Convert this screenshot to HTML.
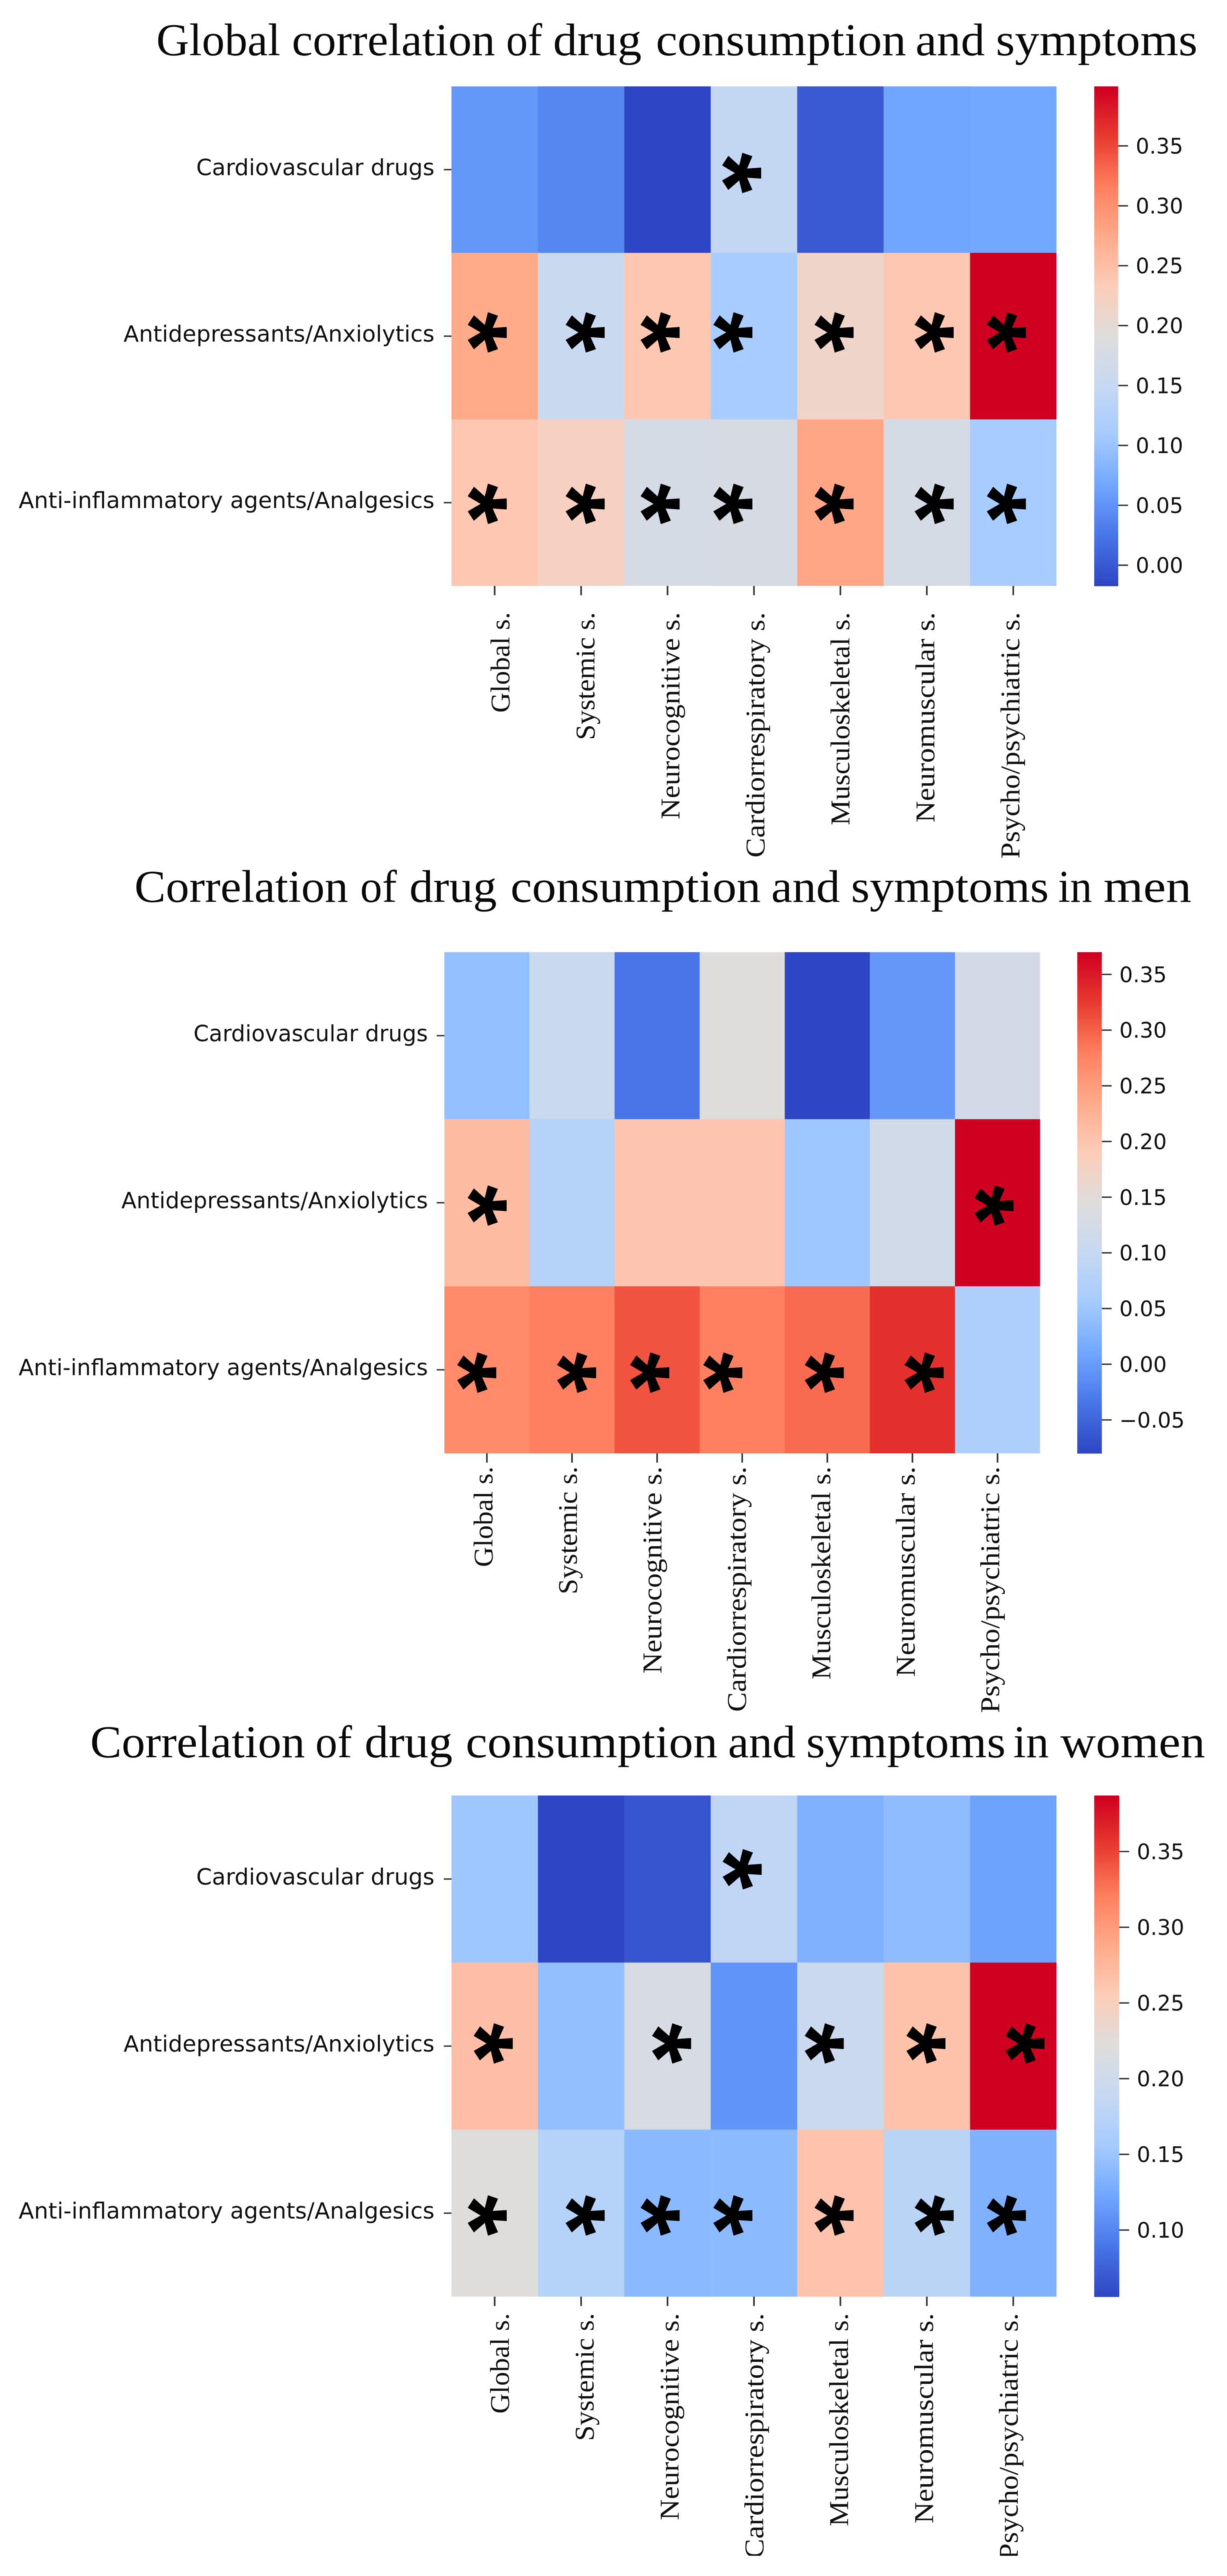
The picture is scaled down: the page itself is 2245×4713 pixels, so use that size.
<!DOCTYPE html>
<html lang="en">
<head>
<meta charset="utf-8">
<title>Correlation of drug consumption and symptoms</title>
<style>
  html, body { margin: 0; padding: 0; background: #fff; }
  body { width: 2245px; height: 4713px; overflow: hidden; }
  svg { display: block; filter: blur(0.8px); }
  .title { font-family: "Liberation Serif", serif; font-size: 84px; fill: #0a0a0a; }
  .ylab { font-family: "DejaVu Sans", sans-serif; font-size: 41px; fill: #111; }
  .cblab { font-family: "DejaVu Sans", sans-serif; font-size: 39px; fill: #111; }
  .xlab { font-family: "Liberation Serif", serif; font-size: 50px; fill: #111; }
  .star { font-family: "Liberation Sans", sans-serif; font-weight: 700; font-size: 192px; fill: #000; }
</style>
</head>
<body>
<svg id="fig" xmlns="http://www.w3.org/2000/svg" width="2245" height="4713" viewBox="0 0 2245 4713">
  <rect x="0" y="0" width="2245" height="4713" fill="#ffffff"/>
  <text class="title" y="101"><tspan x="286" textLength="227" lengthAdjust="spacingAndGlyphs">Global</tspan> <tspan x="534" textLength="372" lengthAdjust="spacingAndGlyphs">correlation</tspan> <tspan x="926" textLength="66" lengthAdjust="spacingAndGlyphs">of</tspan> <tspan x="1012" textLength="162" lengthAdjust="spacingAndGlyphs">drug</tspan> <tspan x="1200" textLength="458" lengthAdjust="spacingAndGlyphs">consumption</tspan> <tspan x="1675" textLength="127" lengthAdjust="spacingAndGlyphs">and</tspan> <tspan x="1822" textLength="369" lengthAdjust="spacingAndGlyphs">symptoms</tspan></text>
  <text class="title" y="1650"><tspan x="246" textLength="391" lengthAdjust="spacingAndGlyphs">Correlation</tspan> <tspan x="659" textLength="67" lengthAdjust="spacingAndGlyphs">of</tspan> <tspan x="749" textLength="160" lengthAdjust="spacingAndGlyphs">drug</tspan> <tspan x="934" textLength="458" lengthAdjust="spacingAndGlyphs">consumption</tspan> <tspan x="1411" textLength="126" lengthAdjust="spacingAndGlyphs">and</tspan> <tspan x="1557" textLength="362" lengthAdjust="spacingAndGlyphs">symptoms</tspan> <tspan x="1936" textLength="62" lengthAdjust="spacingAndGlyphs">in</tspan> <tspan x="2019" textLength="161" lengthAdjust="spacingAndGlyphs">men</tspan></text>
  <text class="title" y="3215"><tspan x="165" textLength="393" lengthAdjust="spacingAndGlyphs">Correlation</tspan> <tspan x="577" textLength="67" lengthAdjust="spacingAndGlyphs">of</tspan> <tspan x="667" textLength="161" lengthAdjust="spacingAndGlyphs">drug</tspan> <tspan x="852" textLength="461" lengthAdjust="spacingAndGlyphs">consumption</tspan> <tspan x="1332" textLength="124" lengthAdjust="spacingAndGlyphs">and</tspan> <tspan x="1475" textLength="365" lengthAdjust="spacingAndGlyphs">symptoms</tspan> <tspan x="1854" textLength="65" lengthAdjust="spacingAndGlyphs">in</tspan> <tspan x="1940" textLength="265" lengthAdjust="spacingAndGlyphs">women</tspan></text>
  <defs>
    <clipPath id="page-clip"><rect x="0" y="0" width="2245" height="4676"/></clipPath>
  </defs>
  <g id="plots" clip-path="url(#page-clip)"></g>
</svg>
<script>
// ---- shared categories ----
const drugCategories = ["Cardiovascular drugs", "Antidepressants/Anxiolytics", "Anti-inflammatory agents/Analgesics"];
const symptomCategories = ["Global s.", "Systemic s.", "Neurocognitive s.", "Cardiorrespiratory s.", "Musculoskeletal s.", "Neuromuscular s.", "Psycho/psychiatric s."];

// ---- correlation values (rows: drugs, columns: symptoms) ----
const valuesGlobal = [
  [0.054, 0.039, -0.0173, 0.146, 0.000, 0.066, 0.068],
  [0.275, 0.154, 0.240, 0.112, 0.214, 0.240, 0.3997],
  [0.240, 0.225, 0.175, 0.177, 0.279, 0.175, 0.112]
];
const valuesMen = [
  [0.042, 0.105, -0.035, 0.145, -0.080, -0.004, 0.122],
  [0.212, 0.078, 0.200, 0.200, 0.050, 0.118, 0.370],
  [0.269, 0.280, 0.310, 0.280, 0.294, 0.334, 0.068]
];
const valuesWomen = [
  [0.152, 0.056, 0.066, 0.183, 0.132, 0.142, 0.120],
  [0.269, 0.145, 0.210, 0.110, 0.195, 0.265, 0.387],
  [0.221, 0.172, 0.139, 0.140, 0.264, 0.177, 0.132]
];

// ---- significance flags ----
const significantGlobal = [
  [0, 0, 0, 1, 0, 0, 0],
  [1, 1, 1, 1, 1, 1, 1],
  [1, 1, 1, 1, 1, 1, 1]
];
const significantMen = [
  [0, 0, 0, 0, 0, 0, 0],
  [1, 0, 0, 0, 0, 0, 1],
  [1, 1, 1, 1, 1, 1, 0]
];
const significantWomen = [
  [0, 0, 0, 1, 0, 0, 0],
  [1, 0, 1, 0, 1, 1, 1],
  [1, 1, 1, 1, 1, 1, 1]
];

// ---- colorbar tick values ----
const ticksGlobal = [0.00, 0.05, 0.10, 0.15, 0.20, 0.25, 0.30, 0.35];
const ticksMen = [-0.05, 0.00, 0.05, 0.10, 0.15, 0.20, 0.25, 0.30, 0.35];
const ticksWomen = [0.10, 0.15, 0.20, 0.25, 0.30, 0.35];

// ---- layout (frame geometry, hand-placed marker nudges) ----
const colormapStops = [
  [46, 70, 196], [72, 118, 232], [112, 166, 255], [164, 203, 255], [198, 216, 242],
  [222, 221, 220], [252, 205, 185], [255, 171, 138], [255, 128, 96], [232, 60, 48], [208, 0, 32]
];
const labelSpans = [184, 234, 379, 449, 390, 385, 451];

const panelGlobal = {
  name: "global", values: valuesGlobal, significant: significantGlobal, ticks: ticksGlobal,
  left: 826, right: 1933, top: 158, bottom: 1072,
  barLeft: 2002, barRight: 2046, labelEnd: 795, tickLeft: 812, yLabelSpans: [436, 569, 761],
  xLabelTop: 1120, xNudgeStart: 27, xNudgeEnd: 11,
  starDx: [[0, 0, 0, -20, 0, 0, 0], [-11, 10, -11, -36, -9, 16, -10], [-11, 10, -11, -36, -9, 16, -10]],
  starDy: [6, -7, 2]
};
const panelMen = {
  name: "men", values: valuesMen, significant: significantMen, ticks: ticksMen,
  left: 813, right: 1903, top: 1742, bottom: 2659,
  barLeft: 1971, barRight: 2016, labelEnd: 783, tickLeft: 799, yLabelSpans: [429, 561, 749],
  xLabelTop: 2683, xNudgeStart: 10, xNudgeEnd: 3,
  starDx: [[0, 0, 0, 0, 0, 0, 0], [3, 0, 0, 0, 0, 0, -4], [-16, 11, -11, -33, -3, 24, 0]],
  starDy: [0, 5, 5]
};
const panelWomen = {
  name: "women", values: valuesWomen, significant: significantWomen, ticks: ticksWomen,
  left: 826, right: 1933, top: 3285, bottom: 4202,
  barLeft: 2002, barRight: 2048, labelEnd: 795, tickLeft: 812, yLabelSpans: [436, 569, 761],
  xLabelTop: 4232, xNudgeStart: 26, xNudgeEnd: 8,
  starDx: [[0, 0, 0, -19, 0, 0, 0], [0, 0, 10, 0, -27, 1, 24], [-11, 10, -11, -36, -9, 16, -10]],
  starDy: [-18, -5, 4]
};

const SVG_NS = "http://www.w3.org/2000/svg";
const plotsRoot = document.getElementById("plots");

function svgEl(tag, attrs, parent) {
  const el = document.createElementNS(SVG_NS, tag);
  for (const k in attrs) el.setAttribute(k, attrs[k]);
  parent.appendChild(el);
  return el;
}

function colormap(t) {
  const c = Math.max(0, Math.min(1, t)) * (colormapStops.length - 1);
  const i = Math.min(Math.floor(c), colormapStops.length - 2);
  const f = c - i;
  const a = colormapStops[i], b = colormapStops[i + 1];
  return "rgb(" + [0, 1, 2].map(function (k) { return Math.round(a[k] + (b[k] - a[k]) * f); }).join(",") + ")";
}

function formatTick(v) {
  return (v < 0 ? "\u2212" : "") + Math.abs(v).toFixed(2);
}

function drawPanel(p) {
  const g = svgEl("g", {}, plotsRoot);
  
  

  const flat = p.values.reduce(function (acc, r) { return acc.concat(r); }, []);
  const vmin = Math.min.apply(null, flat);
  const vmax = Math.max.apply(null, flat);
  const norm = function (v) { return (v - vmin) / (vmax - vmin); };

  const colWidth = (p.right - p.left) / symptomCategories.length;
  const rowHeight = (p.bottom - p.top) / drugCategories.length;
  const xScale = function (i) { return p.left + i * colWidth; };
  const yScale = function (i) { return p.top + i * rowHeight; };
  const barY = function (v) { return p.bottom - norm(v) * (p.bottom - p.top); };

  // cells
  p.values.forEach(function (row, r) {
    row.forEach(function (v, c) {
      const cell = svgEl("rect", {
        x: xScale(c), y: yScale(r),
        width: colWidth + (c < row.length - 1 ? 0.6 : 0),
        height: rowHeight + (r < p.values.length - 1 ? 0.6 : 0),
        fill: colormap(norm(v))
      }, g);
      
      
    });
  });

  // y axis ticks and labels
  drugCategories.forEach(function (label, r) {
    const cy = yScale(r) + rowHeight / 2;
    const tick = svgEl("line", { x1: p.tickLeft, x2: p.left, y1: cy, y2: cy, stroke: "#333", "stroke-width": 2.6 }, g);
    
    
    const t = svgEl("text", {
      class: "ylab", x: p.labelEnd - p.yLabelSpans[r], y: cy + 10,
      textLength: p.yLabelSpans[r], lengthAdjust: "spacingAndGlyphs"
    }, g);
    t.textContent = label;
    
    
  });

  // x axis ticks and labels
  symptomCategories.forEach(function (label, c) {
    const cx = xScale(c) + colWidth / 2;
    const tick = svgEl("line", { x1: cx, x2: cx, y1: p.bottom, y2: p.bottom + 17, stroke: "#333", "stroke-width": 3 }, g);
    
    
    const nudge = p.xNudgeStart + (p.xNudgeEnd - p.xNudgeStart) * c / (symptomCategories.length - 1);
    const bx = cx + nudge;
    const t = svgEl("text", {
      class: "xlab",
      transform: "translate(" + bx + "," + p.xLabelTop + ") rotate(-90)",
      x: -labelSpans[c], y: 0,
      textLength: labelSpans[c], lengthAdjust: "spacingAndGlyphs"
    }, g);
    t.textContent = label;
    
    
  });

  // significance asterisks
  p.significant.forEach(function (row, r) {
    row.forEach(function (flag, c) {
      if (!flag) return;
      const sx = xScale(c) + colWidth / 2 + p.starDx[r][c];
      const sy = yScale(r) + rowHeight / 2 + p.starDy[r];
      const s = svgEl("text", {
        class: "star",
        transform: "translate(" + sx + "," + sy + ") rotate(90)",
        x: 0, y: 99, "text-anchor": "middle"
      }, g);
      s.textContent = "*";
      
      
    });
  });

  // colorbar
  const bar = svgEl("g", {}, g);
  
  
  const steps = 256;
  const span = p.bottom - p.top;
  for (let i = 0; i < steps; i++) {
    const y = p.bottom - (i + 1) * span / steps;
    const seg = svgEl("rect", {
      x: p.barLeft, y: y, width: p.barRight - p.barLeft, height: span / steps + 0.5,
      fill: colormap(i / (steps - 1))
    }, bar);
    
    
  }
  p.ticks.forEach(function (v) {
    const y = barY(v);
    const tick = svgEl("line", { x1: p.barRight, x2: p.barRight + 18, y1: y, y2: y, stroke: "#333", "stroke-width": 2.6 }, bar);
    
    
    const t = svgEl("text", { class: "cblab", x: p.barRight + 32, y: y + 14 }, bar);
    t.textContent = formatTick(v);
    
    
  });
}

drawPanel(panelGlobal);
drawPanel(panelMen);
drawPanel(panelWomen);
</script>
</body>
</html>
